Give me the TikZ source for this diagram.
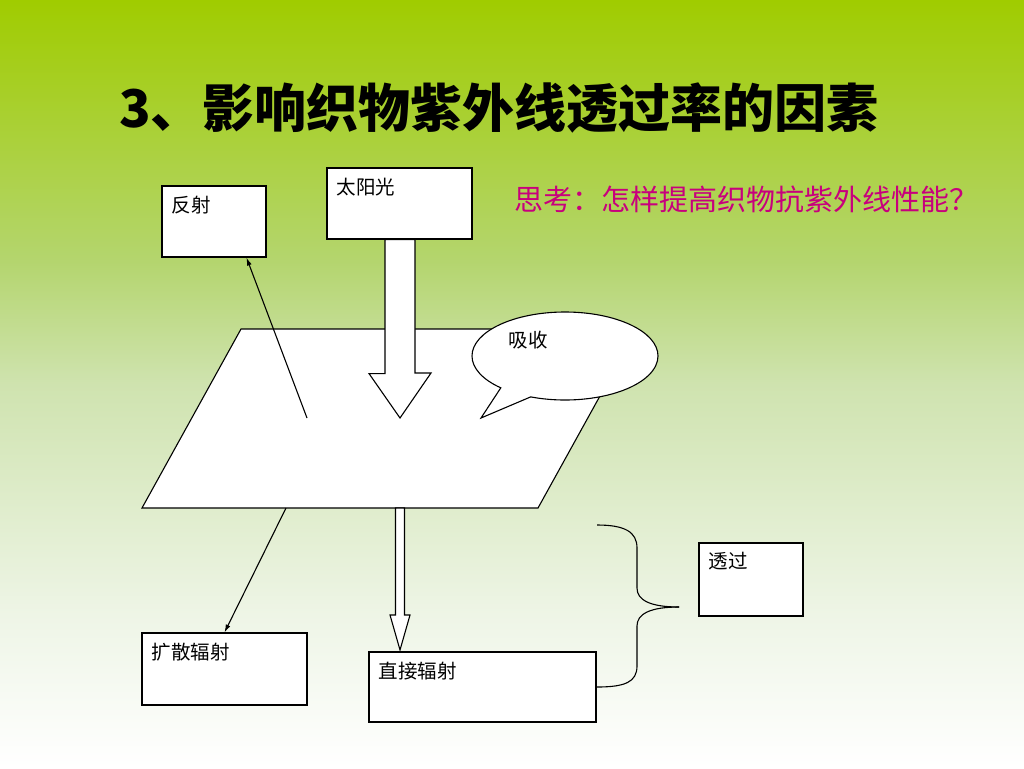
\documentclass[tikz,border=0pt]{standalone}
\usepackage{fontspec}
\setmainfont{Liberation Sans}
\newfontfamily\cjk{Noto Sans CJK SC}
\usetikzlibrary{positioning,calc,arrows.meta,shapes.callouts}
\newcommand{\LabelSize}{\fontsize{19.5}{21}\selectfont}

\definecolor{bgtop}{RGB}{160,204,0}
\definecolor{bgupper}{RGB}{180,213,110}
\definecolor{bgmid}{RGB}{207,227,175}
\definecolor{bglow}{RGB}{238,245,230}
\definecolor{thinkpink}{RGB}{200,0,125}
\pgfdeclareverticalshading{slidebg}{100bp}{color(0bp)=(white); color(25bp)=(white); color(35bp)=(bglow); color(50bp)=(bgmid); color(58bp)=(bgupper); color(75bp)=(bgtop); color(100bp)=(bgtop)}

\tikzset{
	box/.style={draw, fill=white, line width=1.1pt, rectangle, inner sep=0pt},
	boxlabel/.style={anchor=north west, inner sep=0pt, xshift=10pt, yshift=-10pt, font=\cjk\LabelSize},
	blockarrow/.style={draw, fill=white, line width=1.1pt},
	thinarrow/.style={line width=1.1pt, -{Latex[length=8pt,width=5pt]}},
}

\begin{document}
\begin{tikzpicture}[x=1pt, y=-1pt]
		\useasboundingbox (0,0) rectangle (1024,768);
		\shade[shading=slidebg] (0,0) rectangle (1024,768);

		\node[anchor=west, inner sep=0pt, font=\cjk\bfseries\fontsize{52}{56}\selectfont] (title) at (119,108) {3、影响织物紫外线透过率的因素};
		\node[anchor=west, inner sep=0pt, text=thinkpink, font=\cjk\fontsize{29}{31}\selectfont] (sikao) at (514,199) {思考：怎样提高织物抗紫外线性能？};

		\coordinate (p1) at (241,329);
		\coordinate (p2) at (637,329);
		\coordinate (p3) at (538,508);
		\coordinate (p4) at (142,508);
		\draw[fill=white, line width=1.1pt] (p1) -- (p2) -- (p3) -- (p4) -- cycle;

		\node[box, minimum width=104pt, minimum height=71pt, label={[boxlabel]north west:反射}] (fanshe) at (214,221.5) {};
		\node[box, minimum width=145pt, minimum height=71pt, label={[boxlabel]north west:太阳光}] (taiyang) at (399.5,203.5) {};
		\node[box, minimum width=104pt, minimum height=73pt, label={[boxlabel]north west:透过}] (touguo) at (751,579.5) {};
		\node[box, minimum width=165pt, minimum height=72pt, label={[boxlabel]north west:扩散辐射}] (kuosan) at (224.5,669) {};
		\node[box, minimum width=227pt, minimum height=70pt, label={[boxlabel]north west:直接辐射}] (zhijie) at (482.5,687) {};

		\node[ellipse callout, draw, fill=white, line width=1.1pt, minimum width=186pt, minimum height=88pt, callout pointer arc=22, callout absolute pointer={(481,418)}, label={[font=\cjk\LabelSize, xshift=-37pt, yshift=16pt]center:吸收}] (xishou) at (565,356) {};

		\draw[blockarrow] ($(taiyang.south)+(-14.5,0)$) -- ++(0,134) -- ++(-16,0) -- (400,418) -- (431,373) -- ++(-16,0) -- ($(taiyang.south)+(15.5,0)$) -- cycle;
		\draw[blockarrow] (395.5,508) -- (395.5,615) -- (390,615) -- (400,650) -- (410,615) -- (404.5,615) -- (404.5,508) -- cycle;

		\coordinate (reflect) at (307,418);
		\coordinate (diffuse) at (286,508);
		\draw[thinarrow] (reflect) -- (fanshe.-48);
		\draw[thinarrow] (diffuse) -- (kuosan.north);

		\coordinate (bracetop) at (597,525);
		\coordinate (bracetip) at (679,607);
		\coordinate (bracebot) at (597,687);
		\draw[line width=1.1pt] (bracetop) .. controls (625,525) and (637,532) .. (637,548) -- (637,588) .. controls (637,600) and (650,607) .. (bracetip);
		\draw[line width=1.1pt] (bracetip) .. controls (650,607) and (637,614) .. (637,626) -- (637,666) .. controls (637,682) and (625,687) .. (bracebot);
	\end{tikzpicture}
\end{document}
